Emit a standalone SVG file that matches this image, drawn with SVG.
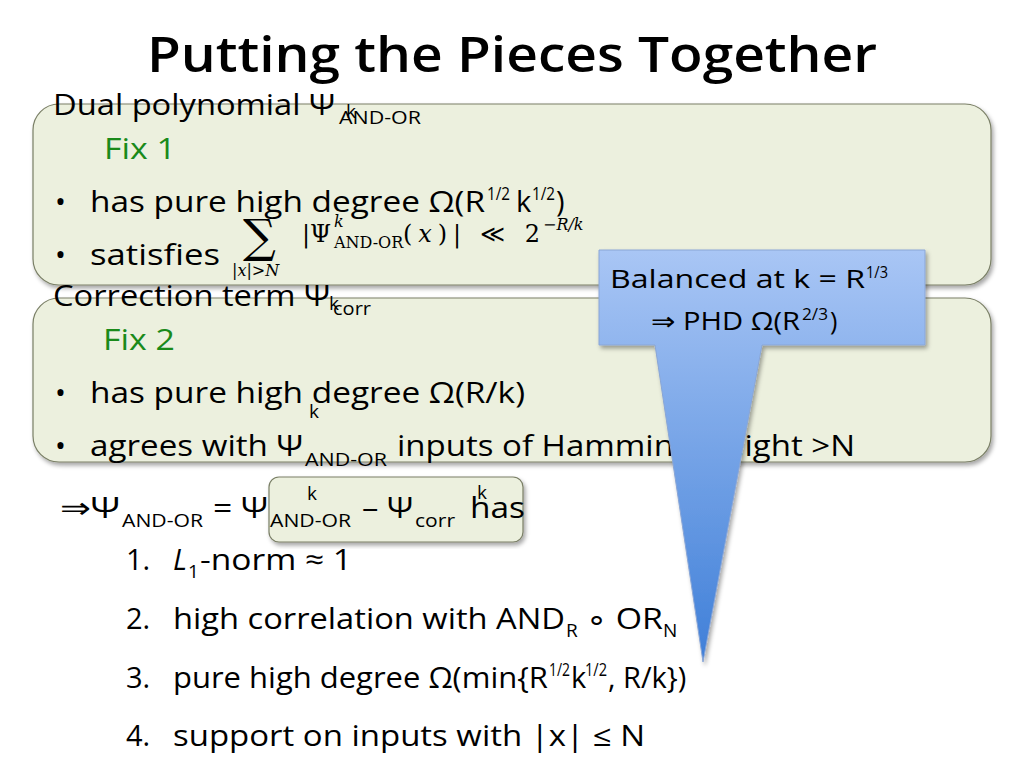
<svg xmlns="http://www.w3.org/2000/svg" width="1024" height="768" viewBox="0 0 1024 768">
<defs>
<linearGradient id="g" x1="0" y1="0" x2="0" y2="1"><stop offset="0" stop-color="#a9c6f5"/><stop offset="1" stop-color="#3f7fd8"/></linearGradient>
<filter id="s" x="-5%" y="-5%" width="110%" height="115%"><feDropShadow dx="2" dy="3" stdDeviation="2" flood-opacity="0.35"/></filter>
</defs>
<style>
text{font-family:"Open Sans","Liberation Sans",sans-serif;fill:#000}
.b{font-size:29px}
.sub{font-size:19px}
.sup{font-size:18px}
.g{fill:#1a8a1a;font-size:30px}
.m{font-family:"DejaVu Serif","Liberation Serif",serif}
.box{fill:#ecf0de;stroke:#7a7f66;stroke-width:1.2;filter:url(#s)}
</style>
<rect width="1024" height="768" fill="#fff"/>
<text x="512" y="72" text-anchor="middle" font-size="48" font-weight="600" textLength="730" lengthAdjust="spacingAndGlyphs">Putting the Pieces Together</text>
<g id="box1">
<rect class="box" x="33" y="104" width="958" height="181" rx="26"/>
<text class="b" x="53" y="115" textLength="282" lengthAdjust="spacingAndGlyphs">Dual polynomial Ψ</text>
<text class="sub" x="339" y="124" textLength="82" lengthAdjust="spacingAndGlyphs">AND-OR</text>
<text class="sub" x="346" y="118">k</text>
<text class="g" x="104" y="159" textLength="72" lengthAdjust="spacingAndGlyphs">Fix 1</text>
<text class="b" x="55" y="212">•</text>
<text class="b" x="90" y="212" textLength="395" lengthAdjust="spacingAndGlyphs">has pure high degree Ω(R</text>
<text class="sup" x="487" y="200" textLength="23" lengthAdjust="spacingAndGlyphs">1/2</text>
<text class="b" x="516" y="212">k</text>
<text class="sup" x="532" y="200" textLength="23" lengthAdjust="spacingAndGlyphs">1/2</text>
<text class="b" x="556" y="212">)</text>
<text class="b" x="55" y="265">•</text>
<text class="b" x="90" y="265" textLength="130" lengthAdjust="spacingAndGlyphs">satisfies</text>
<text class="m" x="243" y="252" font-size="46">∑</text>
<text class="m" x="232" y="276" font-size="16" font-style="italic">|x|&gt;N</text>
<text class="m" x="302" y="242" font-size="24">|Ψ</text>
<text class="m" x="334" y="227" font-size="16" font-style="italic">k</text>
<text class="m" x="334" y="248" font-size="16">AND-OR</text>
<text class="m" x="403" y="242" font-size="24" textLength="137" lengthAdjust="spacing">(<tspan font-style="italic">x</tspan>)| ≪ 2</text>
<text class="m" x="543" y="230" font-size="16" font-style="italic">−R/k</text>
</g>
<g id="box2">
<rect class="box" x="33" y="298" width="958" height="164" rx="26"/>
<text class="b" x="53" y="306" textLength="277" lengthAdjust="spacingAndGlyphs">Correction term Ψ</text>
<text class="sub" x="333" y="315" textLength="38" lengthAdjust="spacingAndGlyphs">corr</text>
<text class="sub" x="329" y="310">k</text>
<text class="g" x="103" y="350" textLength="72" lengthAdjust="spacingAndGlyphs">Fix 2</text>
<text class="b" x="55" y="403">•</text>
<text class="b" x="90" y="403" textLength="435" lengthAdjust="spacingAndGlyphs">has pure high degree Ω(R/k)</text>
<text class="sub" x="309" y="418">k</text>
<text class="b" x="55" y="456">•</text>
<text class="b" x="90" y="456" textLength="213" lengthAdjust="spacingAndGlyphs">agrees with Ψ</text>
<text class="sub" x="305" y="466" textLength="82" lengthAdjust="spacingAndGlyphs">AND-OR</text>
<text class="b" x="397" y="456" textLength="458" lengthAdjust="spacingAndGlyphs">inputs of Hamming weight &gt;N</text>
</g>
<g id="box3">
<rect class="box" x="269" y="477" width="254" height="65" rx="10"/>
</g>
<g id="formula">
<text class="b" x="60" y="518" textLength="60" lengthAdjust="spacingAndGlyphs">⇒Ψ</text>
<text class="sub" x="122" y="527" textLength="81" lengthAdjust="spacingAndGlyphs">AND-OR</text>
<text class="b" x="213" y="518" textLength="55" lengthAdjust="spacingAndGlyphs">= Ψ</text>
<text class="sub" x="270" y="527" textLength="81" lengthAdjust="spacingAndGlyphs">AND-OR</text>
<text class="sub" x="307" y="500">k</text>
<text class="b" x="362" y="518" textLength="51" lengthAdjust="spacingAndGlyphs">– Ψ</text>
<text class="sub" x="415" y="527" textLength="40" lengthAdjust="spacingAndGlyphs">corr</text>
<text class="sub" x="477" y="499">k</text>
<text class="b" x="470" y="518" textLength="55" lengthAdjust="spacingAndGlyphs">has</text>
</g>
<g id="list">
<text class="b" x="126" y="570">1.</text>
<text class="b" x="173" y="570" font-style="italic">L</text>
<text class="sub" x="188" y="578">1</text>
<text class="b" x="200" y="570" textLength="152" lengthAdjust="spacingAndGlyphs">-norm ≈ 1</text>
<text class="b" x="126" y="629">2.</text>
<text class="b" x="173" y="629" textLength="392" lengthAdjust="spacingAndGlyphs">high correlation with AND</text>
<text class="sub" x="566" y="637">R</text>
<text class="b" x="586" y="629" textLength="77" lengthAdjust="spacingAndGlyphs">∘ OR</text>
<text class="sub" x="663" y="637">N</text>
<text class="b" x="126" y="688">3.</text>
<text class="b" x="173" y="688" textLength="375" lengthAdjust="spacingAndGlyphs">pure high degree Ω(min{R</text>
<text class="sup" x="549" y="676" textLength="21" lengthAdjust="spacingAndGlyphs">1/2</text>
<text class="b" x="571" y="688">k</text>
<text class="sup" x="585" y="676" textLength="22" lengthAdjust="spacingAndGlyphs">1/2</text>
<text class="b" x="608" y="688">, R/k})</text>
<text class="b" x="126" y="746">4.</text>
<text class="b" x="173" y="746" textLength="472" lengthAdjust="spacingAndGlyphs">support on inputs with |x| ≤ N</text>
</g>
<g id="callout">
<path d="M599,250 H925 V345 H762 L703,662 L655,345 H599 Z" fill="url(#g)" stroke="#8aa6d6" stroke-width="1" filter="url(#s)"/>
<text x="610" y="288" font-size="25" textLength="255" lengthAdjust="spacingAndGlyphs">Balanced at k = R</text>
<text x="866" y="278" font-size="17" textLength="22" lengthAdjust="spacingAndGlyphs">1/3</text>
<text x="651" y="330" font-size="25" textLength="149" lengthAdjust="spacingAndGlyphs">⇒ PHD Ω(R</text>
<text x="802" y="320" font-size="17" textLength="26" lengthAdjust="spacingAndGlyphs">2/3</text>
<text x="830" y="330" font-size="25">)</text>
</g>
</svg>
